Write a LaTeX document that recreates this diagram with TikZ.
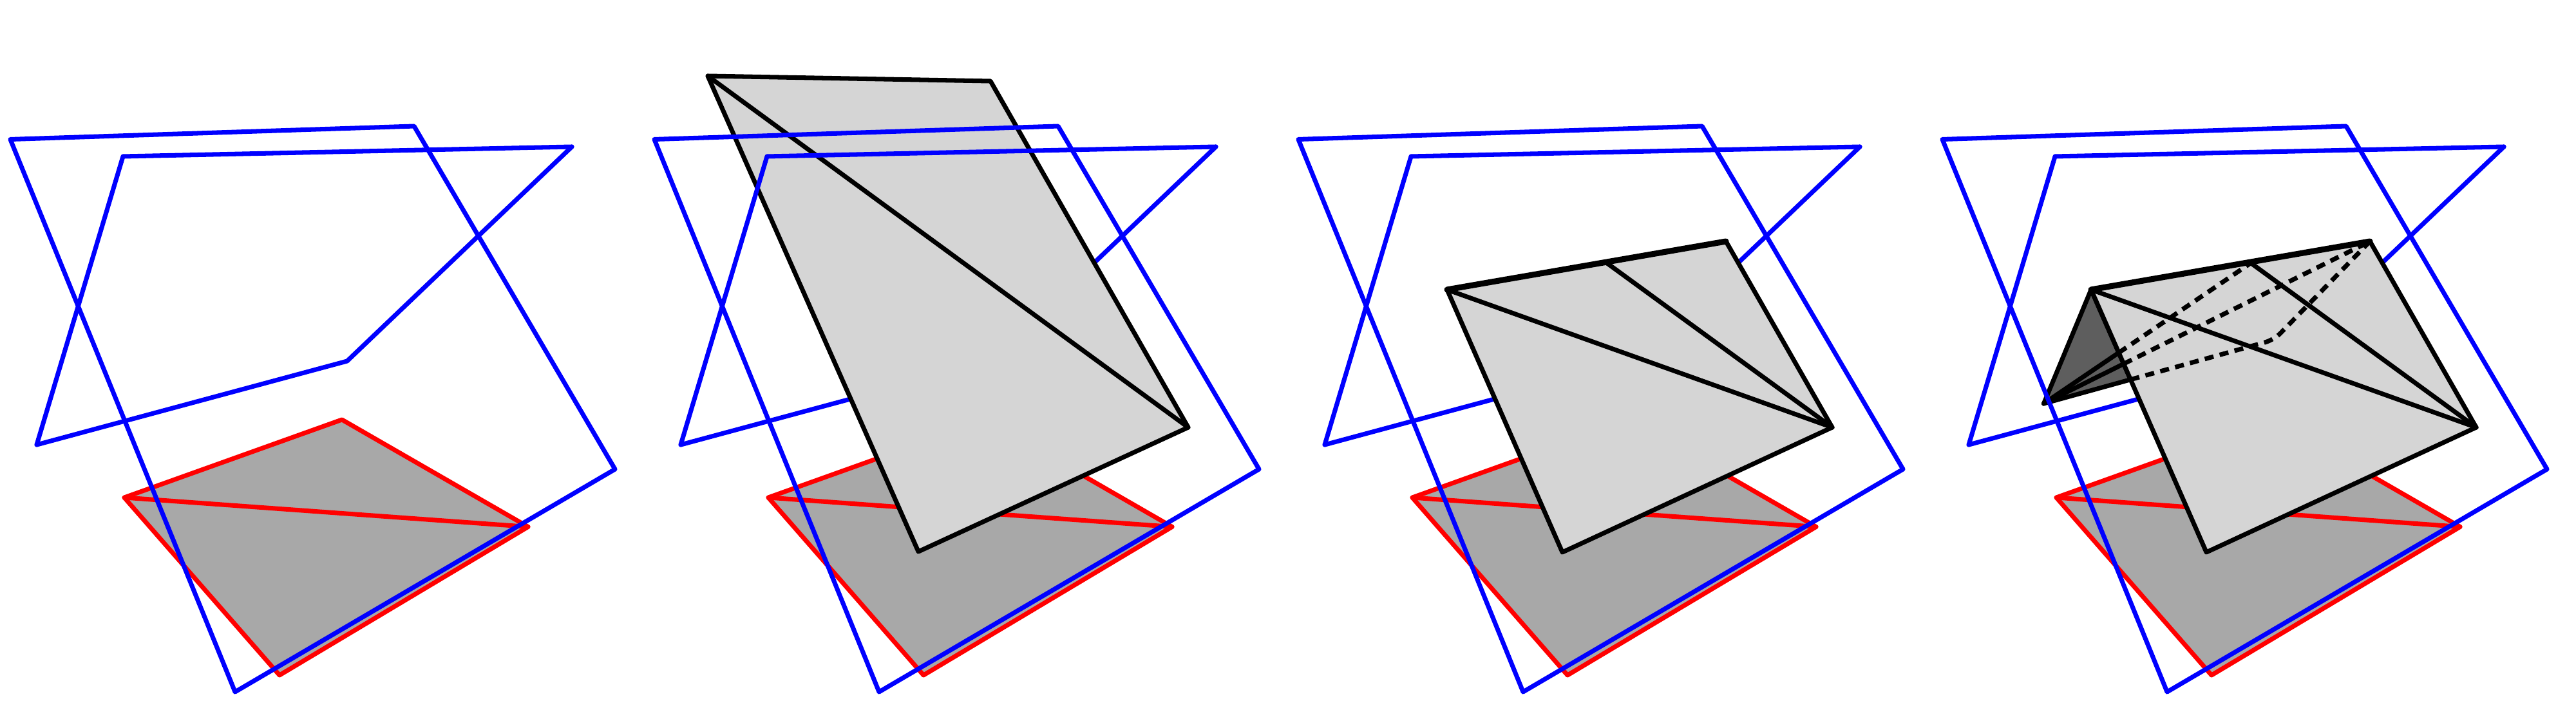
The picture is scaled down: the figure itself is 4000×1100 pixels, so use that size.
\documentclass[tikz,border=0pt]{standalone}
\definecolor{redfill}{HTML}{A8A8A8}
\definecolor{sheet}{HTML}{D5D5D5}
\definecolor{darkside}{HTML}{5E5E5E}
\tikzset{
  px/.style={x=0.01cm,y=-0.01cm},
  edge/.style={line width=2pt,line join=round,line cap=round},
  blueedge/.style={edge,draw=blue},
  rededge/.style={edge,draw=red},
  blackedge/.style={edge,draw=black},
  hidden/.style={blackedge,line cap=butt,dash pattern=on 4pt off 2.8pt},
}
\newcommand{\framecoords}{
  \coordinate (oa) at (16,216.5);
  \coordinate (ob) at (643,196);
  \coordinate (oc) at (955,729);
  \coordinate (od) at (365,1075);
  \coordinate (ia) at (191,243);
  \coordinate (ib) at (888,228);
  \coordinate (ic) at (539,561);
  \coordinate (id) at (57,691);
  \coordinate (ra) at (193,773);
  \coordinate (rb) at (531,652);
  \coordinate (rc) at (820,818.5);
  \coordinate (rd) at (434,1049);
}
\newcommand{\lowerlayer}{
  \framecoords
  \draw[rededge,fill=redfill] (ra) -- (rb) -- (rc) -- (rd) -- cycle;
  \draw[rededge] (ra) -- (rc);
  \draw[blueedge] (ib) -- (ic) -- (id);
}
\newcommand{\upperlayer}{
  \draw[blueedge] (id) -- (ia) -- (ib);
  \draw[blueedge] (oa) -- (ob) -- (oc) -- (od) -- cycle;
}
\newcommand{\foldedsheet}{
  \coordinate (fa) at (247,450);
  \coordinate (fb) at (680,375);
  \coordinate (fc) at (845,664);
  \coordinate (fd) at (426,858);
  \coordinate (fm) at (495,408.6);
  \draw[blackedge,fill=sheet] (fa) -- (fb) -- (fc) -- (fd) -- cycle;
  \draw[blackedge,line width=2.6pt] (fa) -- (fb);
  \draw[blackedge] (fa) -- (fc);
  \draw[blackedge] (fm) -- (fc);
}
\begin{document}
\begin{tikzpicture}[px]
\useasboundingbox (0,0) rectangle (4000,1100);
\fill[white] (0,0) rectangle (4000,1100);
% panel 1
\begin{scope}
  \lowerlayer
  \upperlayer
\end{scope}
% panel 2
\begin{scope}[shift={(1000,0)}]
  \lowerlayer
  \coordinate (ga) at (99,118);
  \coordinate (gb) at (538,126);
  \coordinate (gc) at (845,664);
  \coordinate (gd) at (426,857);
  \draw[blackedge,fill=sheet] (ga) -- (gb) -- (gc) -- (gd) -- cycle;
  \draw[blackedge] (ga) -- (gc);
  \upperlayer
\end{scope}
% panel 3
\begin{scope}[shift={(2000,0)}]
  \lowerlayer
  \foldedsheet
  \upperlayer
\end{scope}
% panel 4
\begin{scope}[shift={(3000,0)}]
  \lowerlayer
  \coordinate (fa) at (247,450);
  \coordinate (fd) at (426,858);
  \coordinate (tip) at (173.5,627);
  \coordinate (fm) at (495,408.6);
  \coordinate (fb) at (680,375);
  \coordinate (bend) at (531,528);
  \coordinate (h1) at (intersection cs:first line={(tip)--(fm)},second line={(fa)--(fd)});
  \coordinate (h2) at (intersection cs:first line={(tip)--(fb)},second line={(fa)--(fd)});
  \coordinate (h3) at (intersection cs:first line={(tip)--(bend)},second line={(fa)--(fd)});
  \draw[blackedge,fill=darkside] (fa) -- (tip) -- (h3) -- cycle;
  \draw[blackedge] (tip) -- (h1);
  \draw[blackedge] (tip) -- (h2);
  \foldedsheet
  \draw[hidden] (h1) -- (fm);
  \draw[hidden] (h2) -- (fb);
  \draw[hidden,rounded corners=4pt] (h3) -- (bend) -- (fb);
  \upperlayer
\end{scope}
\end{tikzpicture}
\end{document}
